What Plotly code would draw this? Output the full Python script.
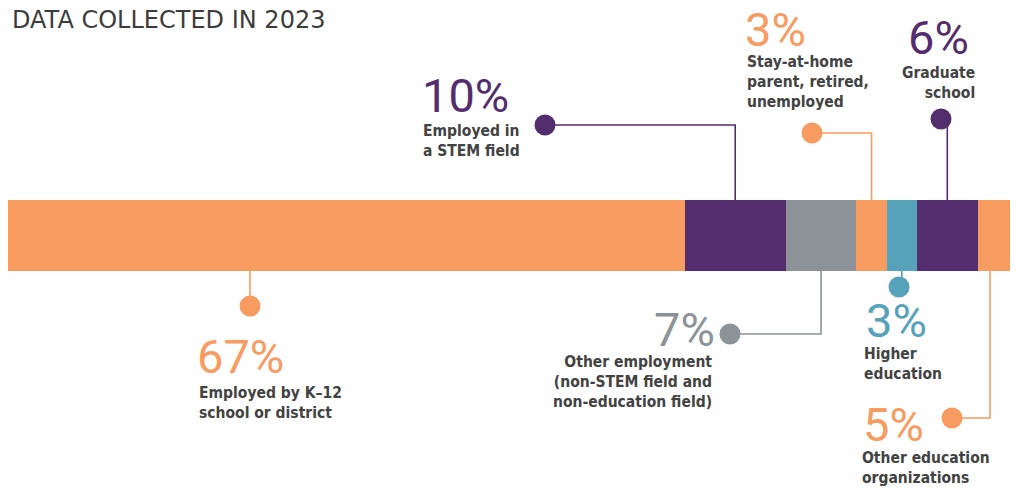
import plotly.graph_objects as go

# ---- data ----
categories = [
    "Employed by K–12 school or district",
    "Employed in a STEM field",
    "Other employment (non-STEM field and non-education field)",
    "Stay-at-home parent, retired, unemployed",
    "Higher education",
    "Graduate school",
    "Other education organizations",
]
values = [67, 10, 7, 3, 3, 6, 5]
value_labels = ["67%", "10%", "7%", "3%", "3%", "6%", "5%"]
desc_labels = [
    "Employed by K–12<br>school or district",
    "Employed in<br>a STEM field",
    "Other employment<br>(non-STEM field and<br>non-education field)",
    "Stay-at-home<br>parent, retired,<br>unemployed",
    "Higher<br>education",
    "Graduate<br>school",
    "Other education<br>organizations",
]
colors = ["#F89B60", "#532D6D", "#8B9298", "#F89B60", "#56A2BB", "#532D6D", "#F89B60"]
title_text = "DATA COLLECTED IN 2023"

# ---- layout helpers (pixel geometry of the page) ----
W, H = 1018, 489
PAGE_OFF = 8          # browser body margin
X0 = 8                # page column where the bar starts
XMAX = 100.0
scale = (W - X0) / XMAX


def px(xp):
    return (xp - X0) / scale


BAR_Y, BAR_H = 235.5, 71
BAR_TOP, BAR_BOT = BAR_Y - BAR_H / 2, BAR_Y + BAR_H / 2

NUM_FONT = dict(family="Roboto, Open Sans, sans-serif", size=47, weight=400)
DESC_FONT = dict(family="DejaVu Sans Condensed, DejaVu Sans, sans-serif", size=15.5,
                 color="#424242", weight="bold")

layout_spec = [
    dict(side="below", lead_px=250, dot=(250, 306), num=(195, 356, "left"), desc=(197, 382, "left")),
    dict(side="above", lead_px=None, dot=(545, 125), num=(420, 95, "left"), desc=(421, 120, "left")),
    dict(side="below", lead_px=None, dot=(730, 334), num=(717, 329, "right"), desc=(714, 351, "right")),
    dict(side="above", lead_px=None, dot=(812, 133), num=(743, 29, "left"), desc=(745, 51, "left")),
    dict(side="below", lead_px=None, dot=(899, 287), num=(864, 320, "left"), desc=(862, 343, "left")),
    dict(side="above", lead_px=None, dot=(941, 119), num=(906, 37, "left"), desc=(977, 62, "right")),
    dict(side="below", lead_px=990, dot=(952, 418), num=(861, 424, "left"), desc=(860, 447, "left")),
]

fig = go.Figure()

for cat, v, c in zip(categories, values, colors):
    fig.add_trace(go.Bar(
        y=[BAR_Y], x=[v], orientation="h", width=BAR_H,
        marker=dict(color=c, line=dict(width=0)),
        name=cat, showlegend=False, hoverinfo="skip",
    ))

starts = [sum(values[:i]) for i in range(len(values))]
dot_x, dot_y, dot_c = [], [], []
shapes, annotations = [], []
for i, spec in enumerate(layout_spec):
    center = starts[i] + values[i] / 2
    lx = center if spec["lead_px"] is None else px(spec["lead_px"])
    dxp, dyp = spec["dot"]
    dx = px(dxp)
    edge = BAR_TOP if spec["side"] == "above" else BAR_BOT
    path = f"M {dx},{dyp} L {lx},{dyp} L {lx},{edge}"
    shapes.append(dict(type="path", path=path, xref="x", yref="y",
                       line=dict(color=colors[i], width=1.6), layer="below"))
    dot_x.append(dx)
    dot_y.append(dyp)
    dot_c.append(colors[i])
    nx, ny, na = spec["num"]
    annotations.append(dict(
        x=px(nx), y=ny, xref="x", yref="y", text=value_labels[i], showarrow=False,
        xanchor=na, yanchor="middle", font=dict(color=colors[i], **NUM_FONT),
    ))
    tx, ty, ta = spec["desc"]
    annotations.append(dict(
        x=px(tx), y=ty, xref="x", yref="y", text=desc_labels[i], showarrow=False,
        xanchor=ta, yanchor="top", align=ta, font=DESC_FONT,
    ))

fig.add_trace(go.Scatter(
    x=dot_x, y=dot_y, mode="markers",
    marker=dict(size=21, color=dot_c, line=dict(width=0)),
    showlegend=False, hoverinfo="skip", cliponaxis=False,
))

annotations.append(dict(
    x=px(10), y=20, xref="x", yref="y", yanchor="middle", xanchor="left",
    text=title_text, showarrow=False,
    font=dict(family="DejaVu Sans, sans-serif", size=24, color="#3C3C3C"),
))

fig.update_layout(
    width=W, height=H,
    margin=dict(l=0, r=PAGE_OFF, t=0, b=0),
    barmode="stack",
    plot_bgcolor="white", paper_bgcolor="white",
    xaxis=dict(range=[0, XMAX], visible=False, fixedrange=True),
    yaxis=dict(range=[H + PAGE_OFF, PAGE_OFF], visible=False, fixedrange=True),
    shapes=shapes, annotations=annotations,
    showlegend=False,
)

fig.write_html("out.html")
